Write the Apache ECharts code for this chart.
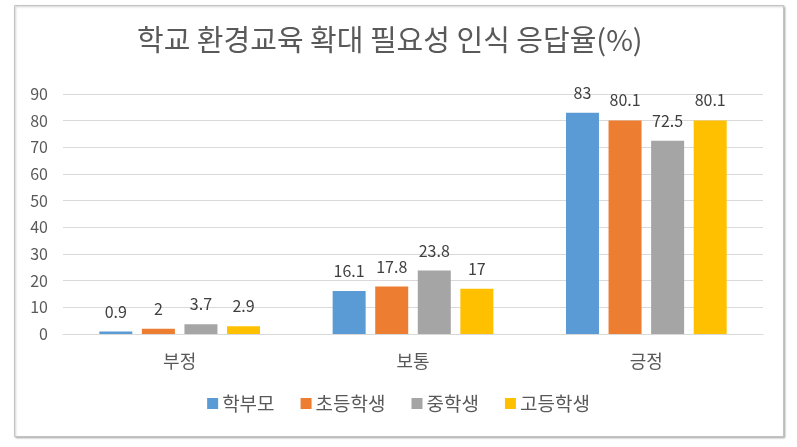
<!DOCTYPE html>
<html>
<head>
<meta charset="utf-8">
<script src="https://cdn.jsdelivr.net/npm/echarts@6/dist/echarts.min.js"></script>
<style>
html,body{margin:0;padding:0;background:#fff;}
#c{width:797px;height:447px;}
</style>
</head>
<body>
<div id="c"></div>
<script>
const titleText = '학교 환경교육 확대 필요성 인식 응답율(%)';
const categories = ['부정', '보통', '긍정'];
const seriesNames = ['학부모', '초등학생', '중학생', '고등학생'];
const parents = [0.9, 16.1, 83];
const elementary = [2, 17.8, 80.1];
const middle = [3.7, 23.8, 72.5];
const high = [2.9, 17, 80.1];
const colors = ['#5B9BD5', '#ED7D31', '#A5A5A5', '#FFC000'];
const yTicks = [0, 10, 20, 30, 40, 50, 60, 70, 80, 90];

const FONT = '"Noto Sans CJK KR", "Noto Sans", sans-serif';
const chart = echarts.init(document.getElementById('c'), null, {renderer: 'canvas'});
const dataSets = [parents, elementary, middle, high];

chart.setOption({
  animation: false,
  color: colors,
  textStyle: {fontFamily: FONT},
  graphic: [{
    type: 'rect',
    z: -10,
    shape: {x: 14.5, y: 5.5, width: 769, height: 431},
    style: {fill: '#fff', stroke: '#c4c4c4', lineWidth: 1,
      shadowBlur: 2, shadowOffsetX: 1, shadowOffsetY: 1, shadowColor: 'rgba(0,0,0,0.25)'}
  }],
  title: {
    text: titleText,
    left: 132,
    top: 20,
    textStyle: {fontFamily: FONT, fontSize: 29, fontWeight: 'normal', color: '#595959'}
  },
  grid: {left: 63, right: 34, top: 94, bottom: 113, containLabel: false},
  legend: {
    data: seriesNames,
    bottom: 29,
    left: 'center',
    itemWidth: 11,
    itemHeight: 11,
    itemGap: 26,
    icon: 'rect',
    textStyle: {fontFamily: FONT, fontSize: 19, color: '#595959', padding: [0, 0, 0, -1]}
  },
  xAxis: {
    type: 'category',
    data: categories,
    axisLine: {show: true, lineStyle: {color: '#d9d9d9', width: 1}},
    axisTick: {show: false},
    axisLabel: {fontFamily: FONT, fontSize: 18, color: '#595959', margin: 18}
  },
  yAxis: {
    type: 'value',
    min: yTicks[0],
    max: yTicks[yTicks.length - 1],
    interval: 10,
    axisLine: {show: false},
    axisTick: {show: false},
    splitLine: {lineStyle: {color: '#d9d9d9', width: 1}},
    axisLabel: {fontFamily: FONT, fontSize: 16, color: '#595959', margin: 15}
  },
  series: seriesNames.map((name, i) => ({
    name: name,
    type: 'bar',
    data: dataSets[i],
    barWidth: 33,
    barGap: '29%',
    itemStyle: {color: colors[i]},
    label: {
      show: true,
      position: 'top',
      distance: 12,
      fontFamily: FONT,
      fontSize: 16,
      color: '#404040'
    }
  }))
});
</script>
</body>
</html>
